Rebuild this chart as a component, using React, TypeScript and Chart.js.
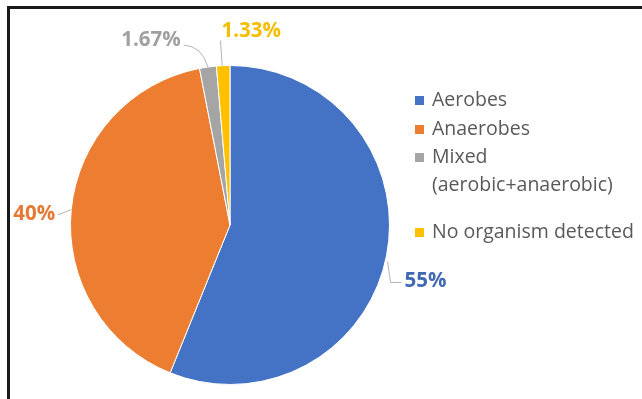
import React, { useEffect, useRef } from "react";
import { Chart, registerables } from "chart.js";

Chart.register(...registerables);

const categories = ["Aerobes", "Anaerobes", "Mixed (aerobic+anaerobic)", "No organism detected"];
const legendLines = [["Aerobes"], ["Anaerobes"], ["Mixed", "(aerobic+anaerobic)"], ["No organism detected"]];
const values = [55, 40, 1.67, 1.33];
const valueLabels = ["55%", "40%", "1.67%", "1.33%"];
const sliceColors = ["#4472C4", "#ED7D31", "#A5A5A5", "#FFC000"];
const labelColors = ["#4169B4", "#E47A35", "#A0A0A0", "#F5BD00"];

const FONT = "'Open Sans', Lato, sans-serif";

const overlay = {
  id: "overlay",
  beforeDraw(chart: any) {
    const ctx = chart.ctx;
    ctx.save();
    ctx.fillStyle = "#ffffff";
    ctx.fillRect(0, 0, chart.width, chart.height);
    ctx.fillStyle = "#1a1a1a";
    ctx.fillRect(7, 6, 3, chart.height);
    ctx.fillRect(7, 6, chart.width, 3);
    ctx.restore();
  },
  afterDraw(chart: any) {
    const ctx = chart.ctx;
    const meta = chart.getDatasetMeta(0);
    const area = chart.chartArea;
    ctx.save();
    const offsets = [
      [39, 26],
      [-37, 4],
      [-57, -27],
      [28, -34],
    ];
    ctx.font = "bold 20.5px " + FONT;
    ctx.textBaseline = "middle";
    ctx.textAlign = "center";
    meta.data.forEach((arc: any, i: number) => {
      const mid = (arc.startAngle + arc.endAngle) / 2;
      const ex = arc.x + Math.cos(mid) * arc.outerRadius;
      const ey = arc.y + Math.sin(mid) * arc.outerRadius;
      const lx = ex + offsets[i][0];
      const ly = ey + offsets[i][1];
      const w = ctx.measureText(valueLabels[i]).width;
      ctx.strokeStyle = "#B4B4B4";
      ctx.lineWidth = 1;
      ctx.beginPath();
      if (i === 0) {
        ctx.moveTo(ex + 1, ey + 6);
        ctx.lineTo(ex + 4, ly + 1);
        ctx.lineTo(lx - w / 2 - 3, ly + 1);
      } else if (i === 1) {
        ctx.moveTo(lx + w / 2 + 3, ly + 1);
        ctx.lineTo(ex, ey);
      } else if (i === 2) {
        ctx.moveTo(lx + w / 2 + 3, ly + 5);
        ctx.quadraticCurveTo(ex - 6, ly + 6, ex, ey);
      } else {
        ctx.moveTo(lx - w / 2 - 1, ly + 9);
        ctx.lineTo(ex - 1, ey);
      }
      ctx.stroke();
      ctx.fillStyle = labelColors[i];
      ctx.fillText(valueLabels[i], lx, ly);
    });
    const lx0 = area.right + 25;
    const rowY = [100, 129, 157, 232];
    ctx.font = "19.5px " + FONT;
    ctx.textAlign = "left";
    legendLines.forEach((lines, i) => {
      ctx.fillStyle = sliceColors[i];
      ctx.fillRect(lx0, rowY[i] - 4, 9, 9);
      ctx.fillStyle = "#595959";
      lines.forEach((t, j) => {
        ctx.fillText(t, lx0 + 17, rowY[i] + j * 28);
      });
    });
    ctx.restore();
  },
};

export default function App() {
  const ref = useRef<HTMLCanvasElement>(null);
  useEffect(() => {
    document.body.style.margin = "0";
    const chart = new Chart(ref.current!, {
      type: "pie",
      data: {
        labels: categories,
        datasets: [
          {
            data: values,
            backgroundColor: sliceColors,
            borderColor: "#ffffff",
            borderWidth: 1,
          },
        ],
      },
      options: {
        animation: false,
        responsive: false,
        layout: { padding: { left: 70, right: 252, top: 64, bottom: 13 } },
        plugins: { legend: { display: false }, tooltip: { enabled: false } },
      },
      plugins: [overlay],
    });
    return () => chart.destroy();
  }, []);
  return (
    <div style={{ width: 642, height: 399 }}>
      <canvas ref={ref} width={642} height={399} style={{ display: "block" }} />
    </div>
  );
}
